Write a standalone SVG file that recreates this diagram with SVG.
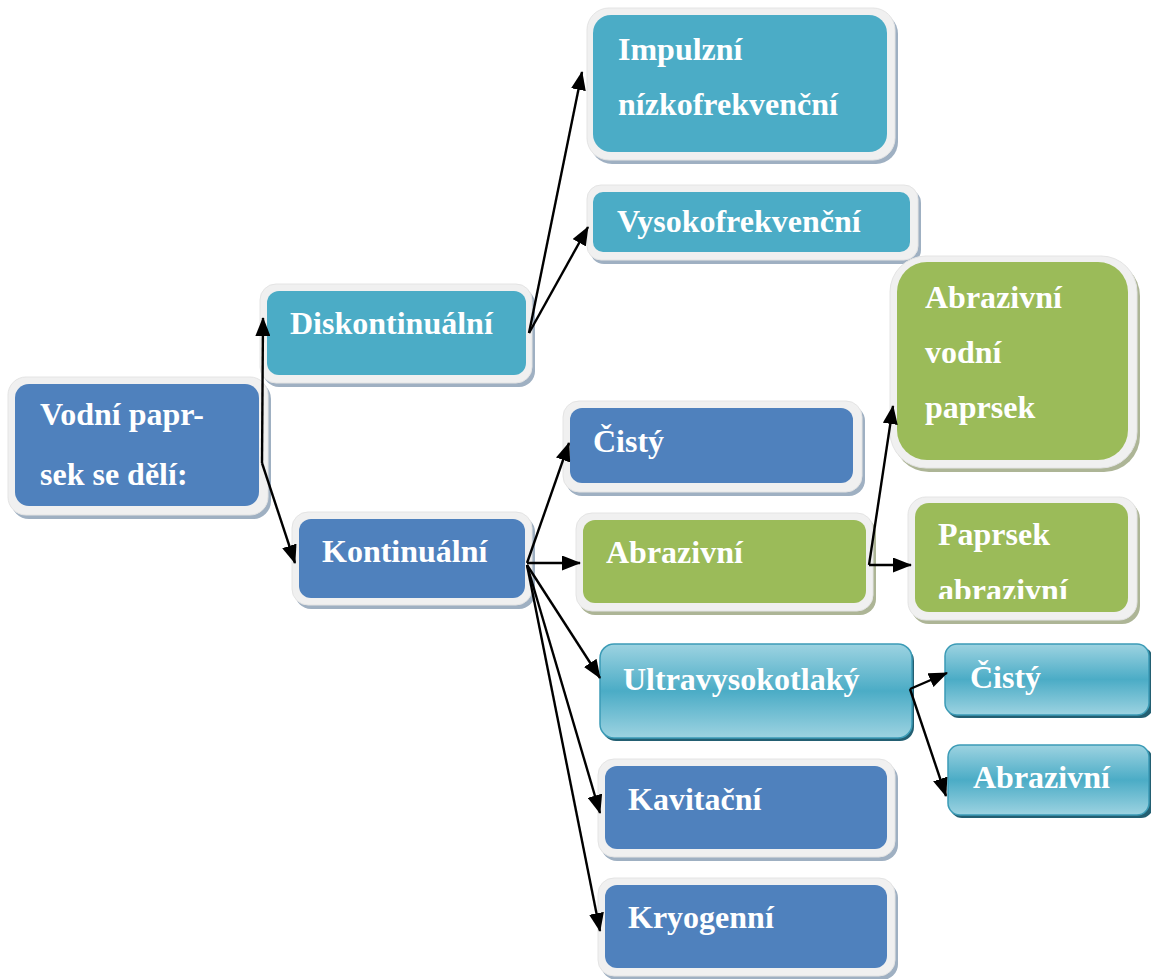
<svg xmlns="http://www.w3.org/2000/svg" width="1151" height="979" viewBox="0 0 1151 979">
<style>
  .frame { fill: #f0f0f0; stroke: #e4e4e4; stroke-width: 1; }
  .shb { fill: #9fb0c2; }
  .shg { fill: #adb596; }
  .blue { fill: #4f81bd; }
  .teal { fill: #4bacc6; }
  .green { fill: #9bbb59; }
  .grad { fill: url(#tealGrad); stroke: #3b9bb6; stroke-width: 1.5; }
  .gsh { fill: #235f72; }
  .t { font-family: "Liberation Serif", "Times New Roman", serif; font-weight: bold; font-size: 32px; fill: #ffffff; }
  .c { fill: none; stroke: #000000; stroke-width: 2.4; marker-end: url(#arr); }
</style>
<defs>
  <marker id="arr" markerUnits="userSpaceOnUse" markerWidth="19" markerHeight="15" refX="18" refY="7.5" orient="auto">
    <path d="M0,0 L19,7.5 L0,15 z" fill="#000000"/>
  </marker>
  <linearGradient id="tealGrad" x1="0" y1="0" x2="0" y2="1">
    <stop offset="0" stop-color="#9dd3e1"/>
    <stop offset="0.5" stop-color="#4bacc6"/>
    <stop offset="1" stop-color="#9dd3e1"/>
  </linearGradient>
  <clipPath id="clipPA">
    <rect x="915" y="503" width="213" height="96"/>
  </clipPath>
</defs>

<rect width="1151" height="979" fill="#ffffff"/>

<g id="root">
  <rect class="shb" x="11" y="381" width="260" height="138" rx="18"/>
  <rect class="frame" x="8" y="377" width="260" height="138" rx="18"/>
  <rect class="blue" x="15" y="384" width="244" height="122" rx="14"/>
  <text class="t" x="40" y="425">Vodní papr-</text>
  <text class="t" x="40" y="485">sek se dělí:</text>
</g>

<g id="diskontinualni">
  <rect class="shb" x="263" y="288" width="272" height="99" rx="16"/>
  <rect class="frame" x="260" y="284" width="272" height="99" rx="16"/>
  <rect class="teal" x="267" y="291" width="259" height="84" rx="12"/>
  <text class="t" x="290" y="334">Diskontinuální</text>
</g>

<g id="kontinualni">
  <rect class="shb" x="295" y="516" width="240" height="93" rx="16"/>
  <rect class="frame" x="292" y="512" width="240" height="93" rx="16"/>
  <rect class="blue" x="299" y="519" width="226" height="79" rx="12"/>
  <text class="t" x="322" y="562">Kontinuální</text>
</g>

<g id="impulzni">
  <rect class="shb" x="590" y="12" width="308" height="152" rx="22"/>
  <rect class="frame" x="587" y="8" width="308" height="152" rx="22"/>
  <rect class="teal" x="593" y="15" width="294" height="137" rx="18"/>
  <text class="t" x="618" y="60">Impulzní</text>
  <text class="t" x="618" y="115">nízkofrekvenční</text>
</g>

<g id="vysokofrekvencni">
  <rect class="shb" x="590" y="189" width="331" height="75" rx="14"/>
  <rect class="frame" x="587" y="185" width="331" height="75" rx="14"/>
  <rect class="teal" x="593" y="192" width="317" height="60" rx="10"/>
  <text class="t" x="617" y="232">Vysokofrekvenční</text>
</g>

<g id="abrazivni-vodni-paprsek">
  <rect class="shg" x="893" y="260" width="247" height="212" rx="36"/>
  <rect class="frame" x="890" y="256" width="247" height="212" rx="36"/>
  <rect class="green" x="897" y="262" width="231" height="198" rx="30"/>
  <text class="t" x="925" y="308">Abrazivní</text>
  <text class="t" x="925" y="363">vodní</text>
  <text class="t" x="925" y="418">paprsek</text>
</g>

<g id="paprsek-abrazivni">
  <rect class="shg" x="911" y="501" width="229" height="123" rx="18"/>
  <rect class="frame" x="908" y="497" width="229" height="123" rx="18"/>
  <rect class="green" x="915" y="503" width="213" height="109" rx="14"/>
  <text class="t" x="938" y="545">Paprsek</text>
  <text class="t" x="938" y="601" clip-path="url(#clipPA)">abrazivní</text>
</g>

<g id="cisty">
  <rect class="shb" x="566" y="405" width="299" height="91" rx="16"/>
  <rect class="frame" x="563" y="401" width="299" height="91" rx="16"/>
  <rect class="blue" x="570" y="408" width="283" height="75" rx="12"/>
  <text class="t" x="593" y="452">Čistý</text>
</g>

<g id="abrazivni">
  <rect class="shg" x="579" y="517" width="297" height="98" rx="16"/>
  <rect class="frame" x="576" y="513" width="297" height="98" rx="16"/>
  <rect class="green" x="583" y="520" width="283" height="83" rx="12"/>
  <text class="t" x="606" y="563">Abrazivní</text>
</g>

<g id="ultravysokotlaky">
  <rect class="gsh" x="602" y="647" width="312" height="94" rx="14"/>
  <rect class="grad" x="600" y="644" width="312" height="94" rx="14"/>
  <text class="t" x="623" y="690">Ultravysokotlaký</text>
</g>

<g id="cisty-uvt">
  <rect class="gsh" x="947" y="647" width="206" height="71" rx="12"/>
  <rect class="grad" x="945" y="644" width="204" height="71" rx="12"/>
  <text class="t" x="970" y="688">Čistý</text>
</g>

<g id="abrazivni-uvt">
  <rect class="gsh" x="950" y="748" width="203" height="70" rx="12"/>
  <rect class="grad" x="948" y="745" width="201" height="70" rx="12"/>
  <text class="t" x="973" y="788">Abrazivní</text>
</g>

<g id="kavitacni">
  <rect class="shb" x="601" y="763" width="297" height="98" rx="16"/>
  <rect class="frame" x="598" y="759" width="297" height="98" rx="16"/>
  <rect class="blue" x="605" y="766" width="282" height="83" rx="12"/>
  <text class="t" x="628" y="810">Kavitační</text>
</g>

<g id="kryogenni">
  <rect class="shb" x="601" y="882" width="297" height="98" rx="16"/>
  <rect class="frame" x="598" y="878" width="297" height="98" rx="16"/>
  <rect class="blue" x="605" y="885" width="282" height="83" rx="12"/>
  <text class="t" x="628" y="928">Kryogenní</text>
</g>

<g id="connectors">
  <path class="c" d="M262,463 L263,318"/>
  <path class="c" d="M262,463 L295,563"/>
  <path class="c" d="M529,333 L582,72"/>
  <path class="c" d="M529,333 L588,227"/>
  <path class="c" d="M527,563 L569,443"/>
  <path class="c" d="M527,563 L580,563"/>
  <path class="c" d="M527,565 L600,678"/>
  <path class="c" d="M527,565 L600,813"/>
  <path class="c" d="M527,565 L600,931"/>
  <path class="c" d="M869,565 L893,406"/>
  <path class="c" d="M869,565 L911,565"/>
  <path class="c" d="M910,689 L947,673"/>
  <path class="c" d="M910,689 L946,796"/>
</g>
</svg>
